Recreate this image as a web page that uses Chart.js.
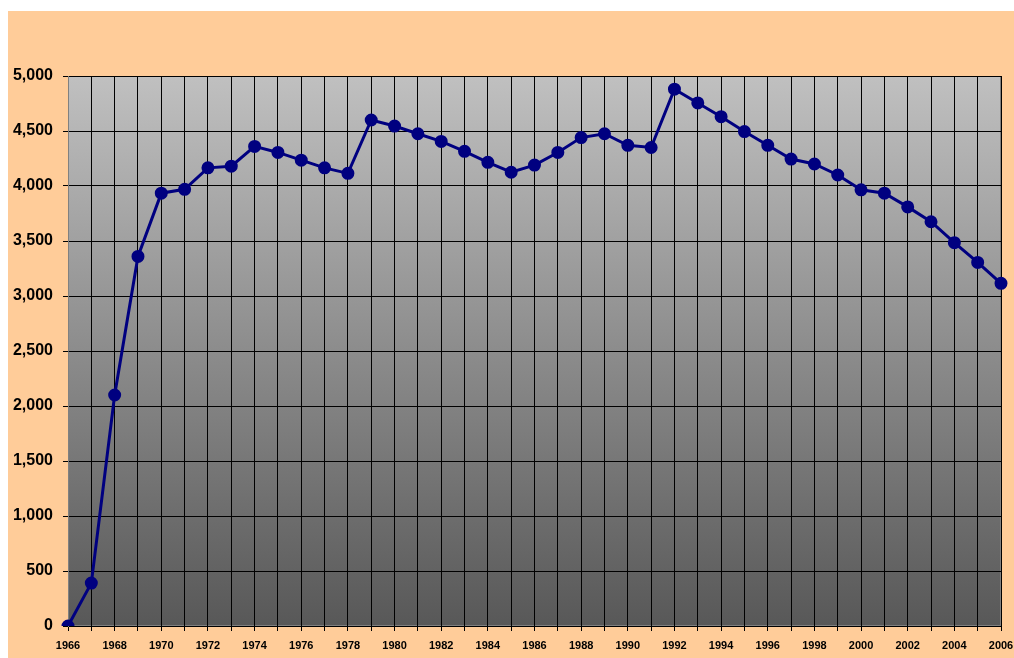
<!DOCTYPE html>
<html>
<head>
<meta charset="utf-8">
<script src="https://cdn.jsdelivr.net/npm/chart.js@4"></script>
<style>
  html, body { margin: 0; padding: 0; background: #ffffff; }
  canvas { display: block; }
</style>
</head>
<body>
<canvas id="chart" width="1014" height="658"></canvas>
<script>
// years on the x axis
const years = [];
for (let y = 1966; y <= 2006; y++) years.push(String(y));

// values
const counts = [
  0, 390, 2100, 3360, 3935, 3970, 4165, 4180, 4360, 4305,
  4235, 4165, 4115, 4600, 4545, 4475, 4405, 4315, 4215, 4125,
  4190, 4305, 4440, 4475, 4370, 4350, 4880, 4755, 4630, 4495,
  4370, 4245, 4200, 4100, 3965, 3935, 3810, 3675, 3485, 3305, 3115
];

const yTicks = { min: 0, max: 5000, step: 500 };

const backdrop = {
  id: "backdrop",
  beforeDraw(chart) {
    const c = chart.ctx;
    const a = chart.chartArea;
    c.save();
    c.fillStyle = "#ffffff";
    c.fillRect(0, 0, chart.width, chart.height);
    c.fillStyle = "#ffcc99";
    c.fillRect(8, 11, chart.width - 8, chart.height - 11);
    const g = c.createLinearGradient(0, a.top, 0, a.bottom);
    g.addColorStop(0, "#c0c0c0");
    g.addColorStop(1, "#585858");
    c.fillStyle = g;
    c.fillRect(a.left, a.top, a.right - a.left, a.bottom - a.top);
    c.strokeStyle = "#808080";
    c.lineWidth = 1;
    c.strokeRect(a.left + 0.5, a.top + 0.5, a.right - a.left - 1, a.bottom - a.top - 1);
    c.restore();
  }
};

new Chart(document.getElementById("chart").getContext("2d"), {
  type: "line",
  data: {
    labels: years,
    datasets: [{
      data: counts,
      borderColor: "#000080",
      backgroundColor: "#000080",
      borderWidth: 3,
      pointRadius: 5,
      pointBackgroundColor: "#000080",
      pointBorderColor: "#000080",
      tension: 0,
      fill: false
    }]
  },
  options: {
    responsive: false,
    animation: false,
    layout: { padding: { left: 8, top: 76, right: 13, bottom: 0 } },
    plugins: { legend: { display: false }, tooltip: { enabled: false } },
    scales: {
      x: {
        type: "category",
        offset: false,
        grid: { color: "#000000", lineWidth: 1, tickLength: 5, offset: false },
        border: { color: "#000000" },
        ticks: {
          autoSkip: false,
          maxRotation: 0,
          padding: 8,
          color: "#000000",
          font: { family: "Liberation Sans, Arial", size: 11, weight: "bold" },
          callback(v, i) { return i % 2 === 0 ? years[i] : ""; }
        },
        afterFit(s) { s.height = 32; s.paddingLeft = 0; s.paddingRight = 0; }
      },
      y: {
        min: yTicks.min,
        max: yTicks.max,
        grid: { color: "#000000", lineWidth: 1, tickLength: 5 },
        border: { color: "#808080" },
        ticks: {
          stepSize: yTicks.step,
          padding: 10,
          color: "#000000",
          font: { family: "Liberation Sans, Arial", size: 16, weight: "bold" },
          callback(v) { return v.toLocaleString("en-US"); }
        },
        afterFit(s) { s.width = 60; }
      }
    }
  },
  plugins: [backdrop]
});
</script>
</body>
</html>
